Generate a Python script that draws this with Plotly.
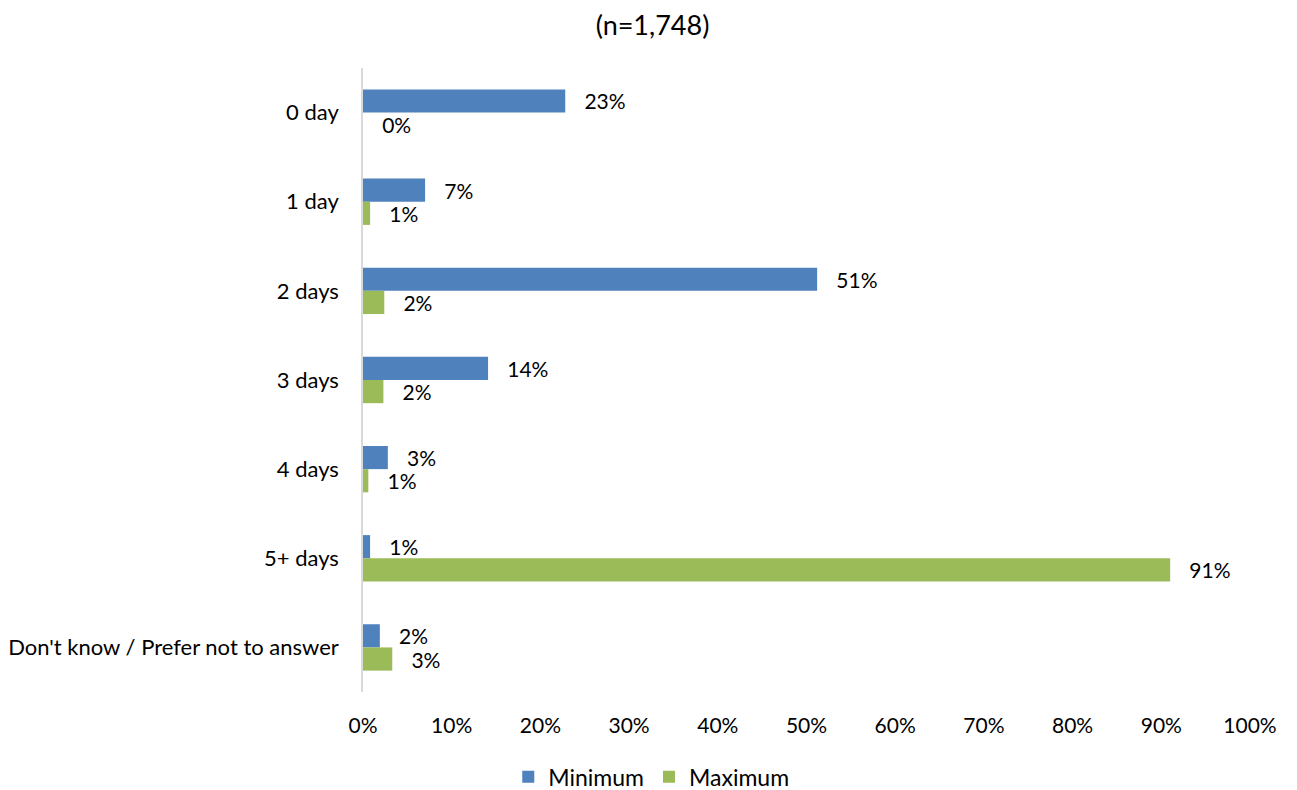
import plotly.graph_objects as go

categories = ["0 day", "1 day", "2 days", "3 days", "4 days", "5+ days",
              "Don't know / Prefer not to answer"]
minimum = [22.8, 7.0, 51.2, 14.1, 2.8, 0.8, 1.9]
maximum = [0.0, 0.8, 2.4, 2.3, 0.6, 91.0, 3.3]
x_ticks = [0, 10, 20, 30, 40, 50, 60, 70, 80, 90, 100]

FONT = "Lato"
pad = "\u00a0\u00a0\u00a0"

fig = go.Figure()
fig.add_trace(go.Bar(
    name="Minimum", y=categories, x=minimum, orientation="h",
    marker=dict(color="#4F81BD", line=dict(width=0)),
    texttemplate=pad + "%{x:.0f}%", textposition="outside", constraintext="none",
    textfont=dict(size=21, color="#000000", family=FONT),
    cliponaxis=False,
))
fig.add_trace(go.Bar(
    name="Maximum", y=categories, x=maximum, orientation="h",
    marker=dict(color="#9BBB59", line=dict(width=0)),
    texttemplate=pad + "%{x:.0f}%", textposition="outside", constraintext="none",
    textfont=dict(size=21, color="#000000", family=FONT),
    cliponaxis=False,
))

fig.update_layout(
    width=1289, height=782,
    paper_bgcolor="white", plot_bgcolor="white",
    barmode="group", bargap=0.48, bargroupgap=0,
    margin=dict(l=355, r=47, t=60, b=98, autoexpand=False),
    font=dict(family=FONT, size=20, color="#000000"),
    title=dict(text="(n=1,748)", x=0.5, xanchor="center", xref="container",
               y=0.99, yanchor="top", yref="container", pad=dict(t=0, b=0),
               font=dict(size=27, family=FONT, color="#000000")),
    showlegend=True,
    legend=dict(orientation="h", x=0.325, xanchor="center", y=-0.136, yanchor="middle",
                font=dict(size=23, family=FONT), traceorder="normal",
                itemwidth=30),
    uniformtext=dict(mode=False),
)
fig.update_xaxes(
    range=[0, 100], tickvals=x_ticks, ticktext=[f"{v}%" for v in x_ticks],
    showgrid=False, zeroline=False, showline=False, ticks="",
    tickfont=dict(size=21, family=FONT), ticklabelstandoff=19, automargin=False,
)
fig.update_yaxes(
    autorange="reversed", showgrid=False, zeroline=False,
    showline=True, linecolor="#D9D9D9", linewidth=1.5, ticks="",
    tickfont=dict(size=22, family=FONT), ticklabelstandoff=18, automargin=False,
)

fig.write_html("out.html")
